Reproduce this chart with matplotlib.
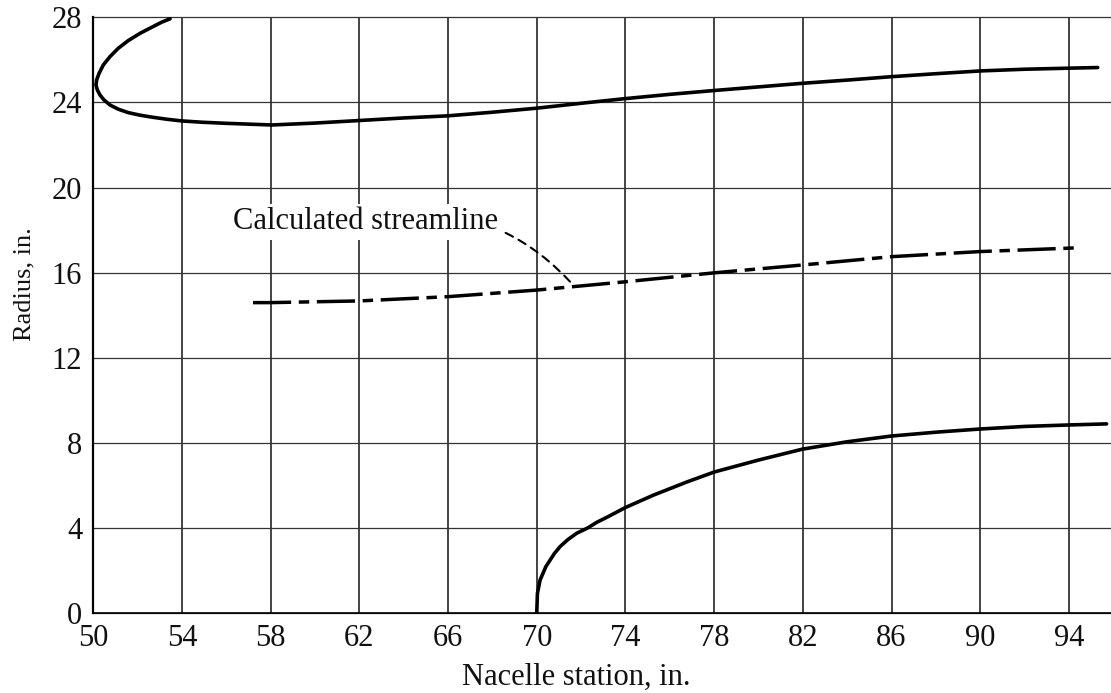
import matplotlib
matplotlib.use("Agg")
import matplotlib.pyplot as plt

# nacelle cowl (upper) contour, traced from the nose lip round to the exit
cowl_x = [53.46, 53.08, 52.63, 52.11, 51.58, 51.13, 50.75, 50.45, 50.26, 50.15,
          50.12, 50.18, 50.30, 50.48, 50.75, 51.13, 51.58, 52.11, 52.63, 53.31,
          53.99, 54.89, 55.94, 56.99, 58.05, 60.0, 62.0, 64.0, 66.0, 68.0,
          70.0, 72.0, 74.0, 76.0, 78.0, 80.0, 82.0, 84.0, 86.0, 88.0,
          90.0, 92.0, 94.0, 95.3]
cowl_y = [27.93, 27.77, 27.53, 27.25, 26.91, 26.55, 26.15, 25.76, 25.37, 25.06,
          24.82, 24.59, 24.35, 24.12, 23.88, 23.68, 23.52, 23.40, 23.31, 23.21,
          23.13, 23.07, 23.02, 22.98, 22.94, 23.03, 23.15, 23.27, 23.37, 23.54,
          23.73, 23.96, 24.18, 24.38, 24.56, 24.73, 24.90, 25.05, 25.21, 25.35,
          25.48, 25.56, 25.61, 25.64]

# centerbody (spinner) contour
hub_x = [70.0, 70.03, 70.15, 70.41, 70.79, 71.05, 71.4, 71.8, 72.3, 72.7,
         73.2, 74.0, 75.26, 76.77, 78.01, 80.0, 81.97, 84.0, 86.0, 88.0,
         90.0, 92.0, 94.0, 95.7]
hub_y = [0.0, 0.92, 1.55, 2.18, 2.79, 3.12, 3.45, 3.75, 4.0, 4.26,
         4.52, 4.96, 5.54, 6.16, 6.63, 7.19, 7.70, 8.05, 8.32, 8.50,
         8.65, 8.77, 8.84, 8.89]

# calculated streamline
stream_x = [57.2, 58.0, 62.0, 66.0, 70.0, 74.0, 78.0, 82.0, 86.0, 90.0, 94.0, 94.4]
stream_y = [14.59, 14.59, 14.67, 14.87, 15.18, 15.57, 15.99, 16.36, 16.75, 16.99, 17.15, 17.17]

x_ticks = list(range(50, 95, 4))
y_ticks = list(range(0, 29, 4))

plt.rcParams['font.family'] = ['Liberation Serif', 'DejaVu Serif']

fig = plt.figure(figsize=(11.11, 6.93), dpi=100)
ax = fig.add_axes([0.084, 0.1154, 0.916, 0.8596])

ax.set_xlim(50, 95.9)
ax.set_ylim(0, 28)

# grid: vertical lines heavier than horizontal ones
for xv in x_ticks:
    ax.axvline(xv, color='#111111', lw=1.1, zorder=1)
for yv in y_ticks:
    ax.axhline(yv, color='#333333', lw=0.9, zorder=1, clip_on=False)

ax.plot(cowl_x, cowl_y, color='black', lw=2.6, solid_capstyle='round',
        solid_joinstyle='round', zorder=3)
ax.plot(hub_x, hub_y, color='black', lw=2.6, solid_capstyle='round',
        solid_joinstyle='round', zorder=3)
ax.plot(stream_x, stream_y, color='black', lw=2.5,
        linestyle=(0, (11, 2.2, 3, 2.2)), zorder=3)

ax.annotate("Calculated streamline", xy=(71.64, 15.42), xytext=(68.26, 18.38),
            ha='right', va='center', fontsize=22, color='#111111',
            bbox=dict(boxstyle='square,pad=0.12', fc='white', ec='none'),
            arrowprops=dict(arrowstyle='-', color='black', lw=1.5,
                            linestyle=(0, (4, 3)), shrinkA=3, shrinkB=0,
                            connectionstyle='arc3,rad=-0.3'),
            zorder=4)

ax.set_xticks(x_ticks)
ax.set_yticks(y_ticks)
ax.tick_params(length=0, labelsize=22, colors='#111111')
ax.tick_params(axis='x', pad=8)
ax.tick_params(axis='y', pad=8)

for side in ['top', 'right']:
    ax.spines[side].set_visible(False)
ax.spines['left'].set_linewidth(1.6)
ax.spines['bottom'].set_linewidth(1.2)

ax.set_xlabel("Nacelle station, in.", fontsize=22, color='#111111')
ax.xaxis.set_label_coords(0.475, -0.083)
ax.set_ylabel("Radius, in.", fontsize=19, color='#111111', va='center')
ax.yaxis.set_label_coords(-0.068, 0.552)

plt.savefig("out.png", dpi=100)
